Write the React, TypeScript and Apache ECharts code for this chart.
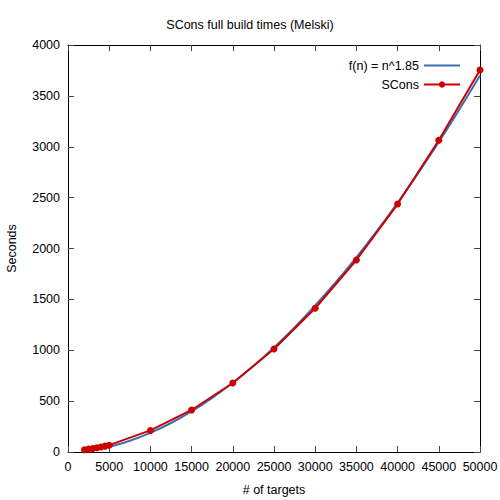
import React, { useEffect, useRef } from "react";
import * as echarts from "echarts";

const fitX = [2000, 5000, 7500, 10000, 12500, 15000, 17500, 20000, 22500, 25000, 27500, 30000, 32500, 35000, 37500, 40000, 42500, 45000, 47500, 50000];
const fitY = [10, 52, 111, 188, 285, 399, 531, 680, 845, 1027, 1225, 1440, 1669, 1913, 2174, 2450, 2741, 3047, 3367, 3700];

const sconsX = [2000, 2500, 3000, 3500, 4000, 4500, 5000, 10000, 15000, 20000, 25000, 30000, 35000, 40000, 45000, 50000];
const sconsY = [22, 28, 35, 42, 50, 58, 67, 212, 413, 678, 1012, 1413, 1887, 2437, 3064, 3755];

const FONT = "Liberation Sans, Arial, sans-serif";
const FS = 12.5;

export default function App() {
  const ref = useRef<HTMLDivElement>(null);
  useEffect(() => {
    const chart = echarts.init(ref.current!, null, { renderer: "svg" });
    const tickStyle = { show: true, inside: true, length: 6, lineStyle: { color: "#444", width: 1 } };
    const axisLine = { show: true, onZero: false, lineStyle: { color: "#000", width: 1 } };
    const fmt = (v: number) => String(v);
    chart.setOption({
      animation: false,
      backgroundColor: "#fff",
      title: {
        text: "SCons full build times (Melski)",
        left: "center",
        top: 13,
        textStyle: { fontFamily: FONT, fontSize: FS, fontWeight: "normal", color: "#000" },
      },
      legend: {
        orient: "vertical",
        right: 34,
        top: 54,
        align: "right",
        itemWidth: 36,
        itemHeight: 8,
        itemGap: 6,
        textStyle: { fontFamily: FONT, fontSize: FS, color: "#000" },
        data: [
          { name: "f(n) = n^1.85", icon: "path://M0,0h35v2h-35z" },
          { name: "SCons" },
        ],
      },
      grid: { left: 68, right: 20, top: 45, bottom: 48, containLabel: false, outerBoundsMode: "none" },
      xAxis: [
        {
          type: "value",
          min: 0,
          max: 50000,
          interval: 5000,
          name: "# of targets",
          nameLocation: "middle",
          nameGap: 31,
          nameTextStyle: { fontFamily: FONT, fontSize: FS, color: "#000" },
          axisLine,
          axisTick: tickStyle,
          axisLabel: { fontFamily: FONT, fontSize: FS, color: "#000", margin: 8, formatter: fmt },
          splitLine: { show: false },
        },
        {
          type: "value",
          position: "top",
          min: 0,
          max: 50000,
          interval: 5000,
          axisLine,
          axisTick: tickStyle,
          axisLabel: { show: false },
          splitLine: { show: false },
        },
      ],
      yAxis: [
        {
          type: "value",
          min: 0,
          max: 4000,
          interval: 500,
          name: "Seconds",
          nameLocation: "middle",
          nameGap: 50,
          nameRotate: 90,
          nameTextStyle: { fontFamily: FONT, fontSize: FS, color: "#000" },
          axisLine,
          axisTick: tickStyle,
          axisLabel: { fontFamily: FONT, fontSize: FS, color: "#000", margin: 8, formatter: fmt },
          splitLine: { show: false },
        },
        {
          type: "value",
          position: "right",
          min: 0,
          max: 4000,
          interval: 500,
          axisLine,
          axisTick: tickStyle,
          axisLabel: { show: false },
          splitLine: { show: false },
        },
      ],
      series: [
        {
          name: "f(n) = n^1.85",
          type: "line",
          smooth: 0.3,
          symbol: "none",
          lineStyle: { color: "#3c6eb4", width: 2 },
          itemStyle: { color: "#3c6eb4" },
          data: fitX.map((x, i) => [x, fitY[i]]),
        },
        {
          name: "SCons",
          type: "line",
          symbol: "circle",
          symbolSize: 7,
          lineStyle: { color: "#cc0000", width: 2 },
          itemStyle: { color: "#cc0000" },
          data: sconsX.map((x, i) => [x, sconsY[i]]),
        },
      ],
    });
    return () => chart.dispose();
  }, []);
  return <div ref={ref} style={{ width: 500, height: 500, position: "absolute", left: 0, top: 0 }} />;
}
